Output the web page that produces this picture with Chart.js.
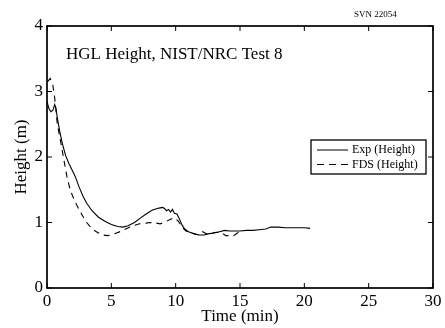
<!DOCTYPE html>
<html><head><meta charset="utf-8">
<script src="https://cdn.jsdelivr.net/npm/chart.js@4/dist/chart.umd.min.js"></script>
<style>html,body{margin:0;padding:0;background:#fff;}</style>
</head><body>
<canvas id="c" width="445" height="328" style="display:block;width:445px;height:328px"></canvas>
<script>
const expTime   = [0, 0.15, 0.3, 0.45, 0.6, 0.7, 0.8, 1.0, 1.2, 1.45, 1.7, 1.95, 2.2, 2.5, 2.8, 3.1, 3.5, 4.0, 4.5, 5.0, 5.5, 5.9, 6.3, 6.8, 7.2, 7.7, 8.2, 8.7, 9.0, 9.15, 9.3, 9.45, 9.6, 9.75, 9.9, 10.1, 10.3, 10.5, 10.7, 11.0, 11.4, 11.8, 12.2, 12.6, 13.0, 13.4, 13.8, 14.2, 14.6, 15.0, 15.5, 16.0, 16.5, 17.0, 17.4, 18.0, 18.5, 19.0, 19.5, 20.0, 20.45];
const expHeight = [2.85, 2.74, 2.69, 2.71, 2.8, 2.74, 2.6, 2.38, 2.2, 2.02, 1.9, 1.8, 1.7, 1.54, 1.4, 1.29, 1.18, 1.08, 1.02, 0.97, 0.94, 0.93, 0.95, 1.0, 1.06, 1.13, 1.19, 1.22, 1.23, 1.21, 1.18, 1.2, 1.16, 1.2, 1.14, 1.13, 1.05, 0.96, 0.9, 0.86, 0.83, 0.81, 0.81, 0.83, 0.84, 0.86, 0.88, 0.87, 0.87, 0.87, 0.88, 0.88, 0.89, 0.9, 0.93, 0.93, 0.92, 0.92, 0.92, 0.92, 0.91];
const fdsTime   = [0.05, 0.25, 0.45, 0.6, 0.8, 1.05, 1.3, 1.55, 1.8, 2.0, 2.3, 2.6, 3.0, 3.3, 3.6, 3.9, 4.3, 4.7, 5.0, 5.4, 5.8, 6.2, 6.7, 7.2, 7.7, 8.0, 8.5, 8.8, 9.2, 9.6, 9.9, 10.2, 10.5, 10.8, 11.2, 11.6, 11.9, 12.1, 12.4, 12.8, 13.2, 13.6, 13.9, 14.2, 14.5, 14.8, 15.0];
const fdsHeight = [3.15, 3.2, 3.1, 2.9, 2.5, 2.25, 1.97, 1.7, 1.5, 1.4, 1.27, 1.16, 1.02, 0.95, 0.89, 0.85, 0.81, 0.8, 0.81, 0.84, 0.87, 0.91, 0.95, 0.98, 0.99, 1.0, 0.99, 0.98, 1.01, 1.05, 1.07, 1.02, 0.93, 0.87, 0.84, 0.82, 0.81, 0.86, 0.83, 0.84, 0.85, 0.84, 0.8, 0.8, 0.8, 0.84, 0.86];
const xTicks = [0, 5, 10, 15, 20, 25, 30];
const yTicks = [0, 1, 2, 3, 4];
const seriesLabels = ['Exp (Height)', 'FDS (Height)'];
const chartTitle = 'HGL Height, NIST/NRC Test 8';
const stampText = 'SVN 22054';
const xTitle = 'Time (min)';
const yTitle = 'Height (m)';

const FONT = '"Liberation Serif", "Times New Roman", serif';
const toPts = (xs, ys) => xs.map((x, i) => ({x: x, y: ys[i]}));

const framePlugin = {
  id: 'frame',
  afterDraw(chart) {
    const ctx = chart.ctx;
    const a = chart.chartArea;
    const xs = chart.scales.x, ys = chart.scales.y;
    ctx.save();
    ctx.strokeStyle = '#000';
    ctx.lineWidth = 1.7;
    ctx.strokeRect(a.left, a.top, a.right - a.left, a.bottom - a.top);
    ctx.lineWidth = 1;
    const tl = 5;
    ctx.beginPath();
    xTicks.forEach(v => {
      const p = xs.getPixelForValue(v);
      ctx.moveTo(p, a.bottom); ctx.lineTo(p, a.bottom - tl);
      ctx.moveTo(p, a.top); ctx.lineTo(p, a.top + tl);
    });
    yTicks.forEach(v => {
      const p = ys.getPixelForValue(v);
      ctx.moveTo(a.left, p); ctx.lineTo(a.left + tl, p);
      ctx.moveTo(a.right, p); ctx.lineTo(a.right - tl, p);
    });
    ctx.stroke();
    // title inside plot
    ctx.fillStyle = '#000';
    ctx.textBaseline = 'alphabetic';
    ctx.textAlign = 'left';
    ctx.font = '17px ' + FONT;
    ctx.fillText(chartTitle, a.left + 19, 59);
    ctx.font = '9px ' + FONT;
    ctx.fillText(stampText, 354, 17);
    // legend
    const bx = 311, by = 140, bw = 115, bh = 34;
    ctx.fillStyle = '#fff';
    ctx.fillRect(bx, by, bw, bh);
    ctx.lineWidth = 1.3;
    ctx.strokeStyle = '#000';
    ctx.strokeRect(bx, by, bw, bh);
    const rows = [150, 164.5];
    ctx.lineWidth = 1;
    ctx.beginPath(); ctx.moveTo(317, rows[0]); ctx.lineTo(348, rows[0]); ctx.stroke();
    ctx.setLineDash([7, 5]);
    ctx.beginPath(); ctx.moveTo(317, rows[1]); ctx.lineTo(348, rows[1]); ctx.stroke();
    ctx.setLineDash([]);
    ctx.fillStyle = '#000';
    ctx.font = '12px ' + FONT;
    ctx.textBaseline = 'middle';
    ctx.fillText(seriesLabels[0], 352, rows[0]);
    ctx.fillText(seriesLabels[1], 352, rows[1]);
    ctx.restore();
  }
};

new Chart(document.getElementById('c'), {
  type: 'line',
  data: {
    datasets: [
      {label: seriesLabels[0], data: toPts(expTime, expHeight), borderColor: '#000', borderWidth: 1.1, pointRadius: 0, tension: 0, fill: false},
      {label: seriesLabels[1], data: toPts(fdsTime, fdsHeight), borderColor: '#000', borderWidth: 1.1, borderDash: [6, 5], pointRadius: 0, tension: 0, fill: false}
    ]
  },
  options: {
    responsive: false,
    animation: false,
    devicePixelRatio: 1,
    layout: {padding: {left: 0, right: 12, top: 26, bottom: 0}},
    plugins: {legend: {display: false}, tooltip: {enabled: false}, title: {display: false}},
    scales: {
      x: {
        type: 'linear', min: 0, max: 30,
        afterBuildTicks: s => { s.ticks = xTicks.map(v => ({value: v})); },
        afterFit: s => { s.height = 40; },
        grid: {display: false, drawTicks: false},
        border: {display: false},
        ticks: {color: '#000', font: {family: FONT, size: 17}, padding: 3, maxRotation: 0, autoSkip: false},
        title: {display: true, text: xTitle, color: '#000', font: {family: FONT, size: 17}, padding: {top: 0, bottom: 1}}
      },
      y: {
        type: 'linear', min: 0, max: 4,
        afterBuildTicks: s => { s.ticks = yTicks.map(v => ({value: v})); },
        afterFit: s => { s.width = 47; },
        grid: {display: false, drawTicks: false},
        border: {display: false},
        ticks: {color: '#000', font: {family: FONT, size: 17}, padding: 4, autoSkip: false},
        title: {display: true, text: yTitle, color: '#000', font: {family: FONT, size: 17}, padding: {top: 11, bottom: 0}}
      }
    }
  },
  plugins: [framePlugin]
});
</script>
</body></html>
